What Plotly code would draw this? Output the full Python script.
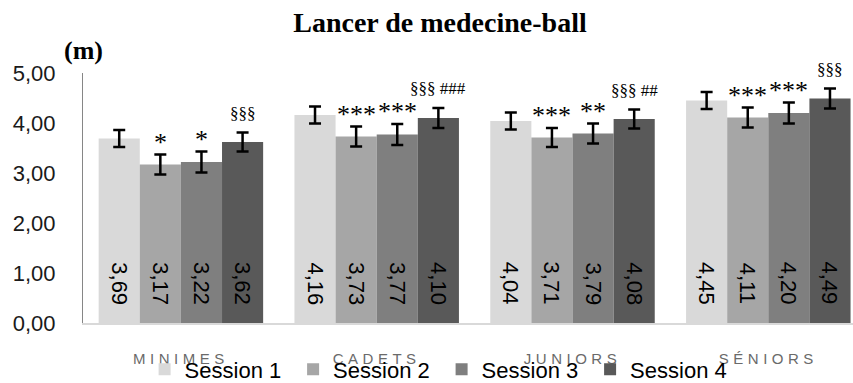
import plotly.graph_objects as go

# Throw distance (m) per age category and session
categories = ["MINIMES", "CADETS", "JUNIORS", "SÉNIORS"]
sessions = ["Session 1", "Session 2", "Session 3", "Session 4"]

session1 = [3.69, 4.16, 4.04, 4.45]
session2 = [3.17, 3.73, 3.71, 4.11]
session3 = [3.22, 3.77, 3.79, 4.20]
session4 = [3.62, 4.10, 4.08, 4.49]

# Standard deviations (error bars)
err1 = [0.17, 0.17, 0.17, 0.17]
err2 = [0.20, 0.20, 0.19, 0.20]
err3 = [0.21, 0.21, 0.20, 0.21]
err4 = [0.19, 0.20, 0.19, 0.20]

# Significance markers shown above each bar
sig1 = ["", "", "", ""]
sig2 = ["*", "***", "***", "***"]
sig3 = ["*", "***", "**", "***"]
sig4 = ["§§§", "§§§ ###", "§§§ ##", "§§§"]

y_ticks = [0, 1, 2, 3, 4, 5]

values = [session1, session2, session3, session4]
errors = [err1, err2, err3, err4]
markers = [sig1, sig2, sig3, sig4]
colors = ["#d9d9d9", "#a6a6a6", "#7f7f7f", "#595959"]

SANS = "Liberation Sans, Arial, sans-serif"
SERIF = "Liberation Serif, Times New Roman, serif"
BARGAP = 0.16
n_series = len(sessions)
bar_w = (1 - BARGAP) / n_series

fig = go.Figure()
for s in range(n_series):
    fig.add_trace(go.Bar(
        name=sessions[s],
        x=categories,
        y=values[s],
        marker=dict(color=colors[s], line=dict(width=0)),
        error_y=dict(type="data", array=errors[s], visible=True,
                     color="#000000", thickness=2.5, width=6),
    ))

annotations = []
for s in range(n_series):
    for i, cat in enumerate(categories):
        xc = i + (s - (n_series - 1) / 2) * bar_w
        v = values[s][i]
        # value written vertically near the base of each bar
        annotations.append(dict(
            x=xc, y=0.79, xref="x", yref="y",
            text=f"{v:.2f}".replace(".", ","),
            textangle=90, showarrow=False,
            xanchor="center", yanchor="middle",
            font=dict(family=SANS, size=22, color="#000000"),
        ))
        mark = markers[s][i]
        if mark:
            stars = set(mark) == {"*"}
            annotations.append(dict(
                x=xc, y=v + errors[s][i], xref="x", yref="y",
                text=mark, showarrow=False,
                xanchor="center", yanchor="bottom",
                yshift=-4 if stars else 8,
                font=dict(family=SERIF, size=26 if stars else 17, color="#000000"),
            ))

# unit label above the value axis
annotations.append(dict(
    x=0, y=1.088, xref="paper", yref="paper",
    text="<b>(m)</b>", showarrow=False,
    xanchor="center", yanchor="middle",
    font=dict(family=SERIF, size=26, color="#000000"),
))

fig.update_layout(
    width=853, height=383,
    margin=dict(l=83, r=0, t=73, b=60, autoexpand=False),
    paper_bgcolor="white", plot_bgcolor="white",
    barmode="group", bargap=BARGAP, bargroupgap=0,
    separators=", ",
    title=dict(
        text="<b>Lancer de medecine-ball</b>",
        x=440 / 853, xref="container", xanchor="center",
        y=1 - 22 / 383, yref="container", yanchor="middle",
        font=dict(family=SERIF, size=28, color="#000000"),
    ),
    showlegend=True,
    legend=dict(
        orientation="h", x=0.08, xanchor="left",
        y=-0.102, yanchor="top",
        font=dict(family=SANS, size=22, color="#000000"),
        bgcolor="rgba(0,0,0,0)", borderwidth=0,
        entrywidth=103.5, entrywidthmode="pixels",
        traceorder="normal",
    ),
    annotations=annotations,
)

fig.update_xaxes(
    type="category",
    range=[-0.5, -0.5 + 770 / 195.8],
    tickvals=categories,
    ticktext=[f"<span style='letter-spacing:4.5px'>{c}</span>" for c in categories],
    tickfont=dict(family=SANS, size=15, color="#6a6a6a"),
    ticks="", ticklabelstandoff=21,
    showline=True, linecolor="#d9d9d9", linewidth=2,
    showgrid=False, zeroline=False,
)
fig.update_yaxes(
    range=[0, 5],
    tickvals=y_ticks, tickformat=".2f",
    tickfont=dict(family=SANS, size=22, color="#1a1a1a"),
    ticks="", ticklabelstandoff=22,
    showline=True, linecolor="#868686", linewidth=1,
    showgrid=False, zeroline=False,
)

fig.write_html("out.html")
